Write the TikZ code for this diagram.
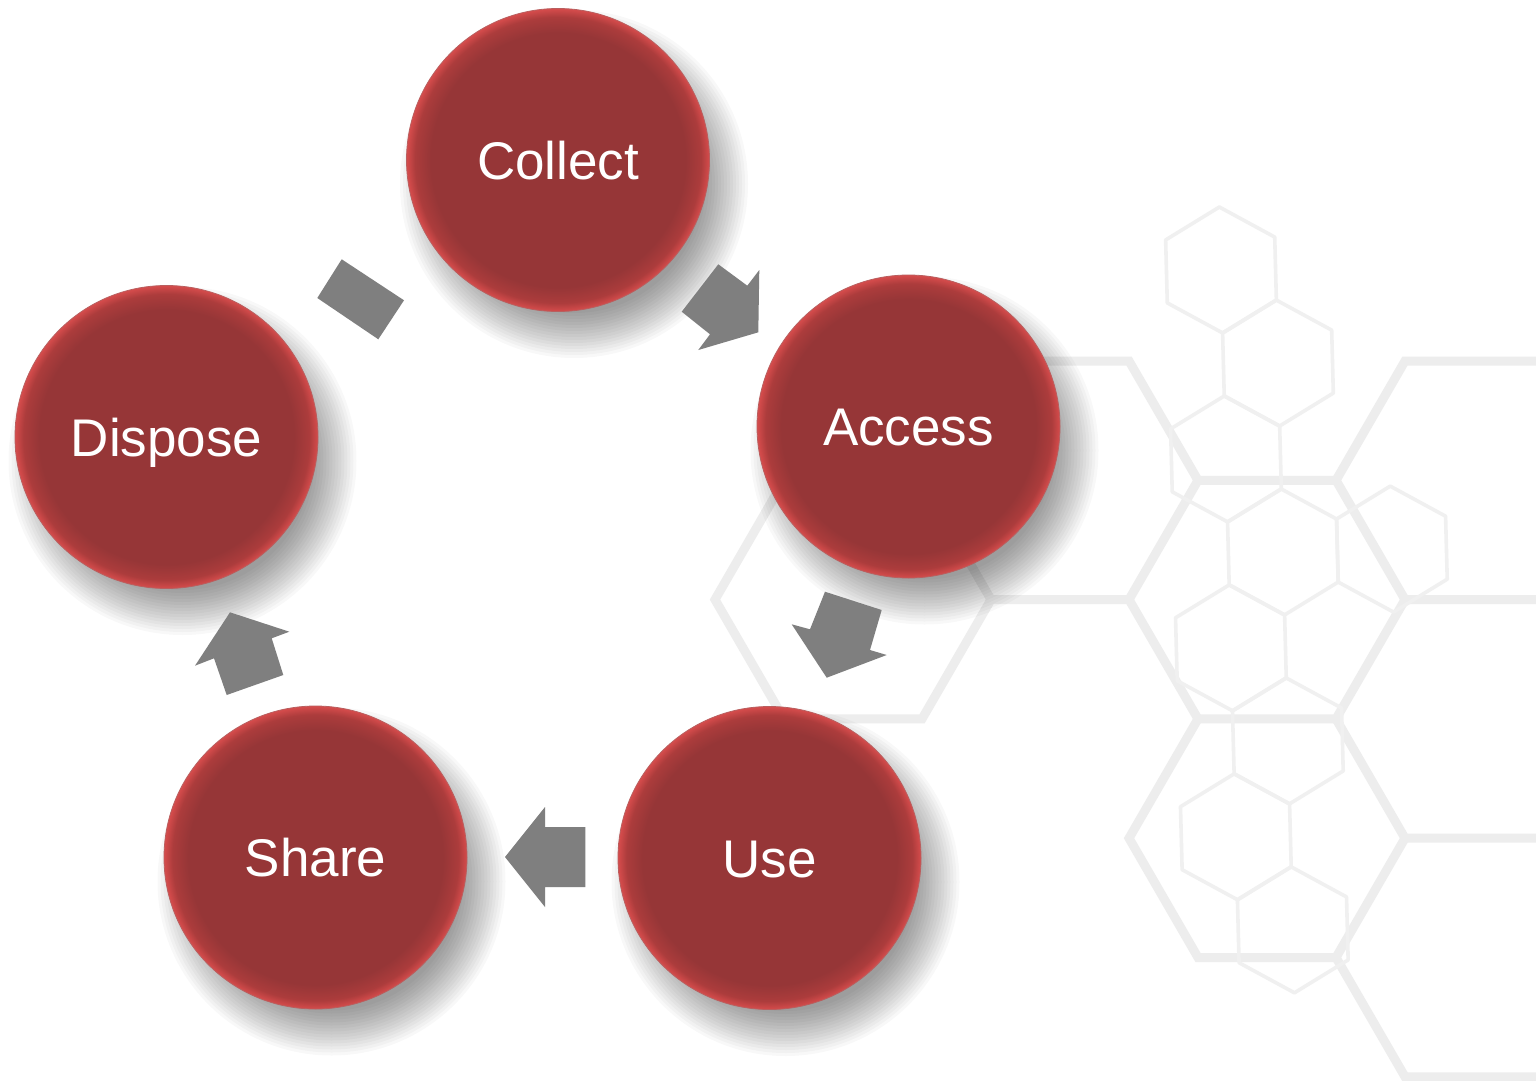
\documentclass[tikz,border=0pt]{standalone}
\usepackage{fontspec}
\setmainfont{Liberation Sans}
\definecolor{ballc}{RGB}{150,54,55}
\definecolor{ballm}{RGB}{172,60,60}
\definecolor{balle}{RGB}{214,76,76}
\definecolor{ballo}{RGB}{185,95,95}
\definecolor{hexc}{RGB}{237,237,237}
\definecolor{hext}{RGB}{240,240,240}
\definecolor{arrc}{RGB}{127,127,127}
\pgfdeclareradialshading{ballred}{\pgfpointorigin}{color(0bp)=(ballc); color(21bp)=(ballc); color(23.6bp)=(ballm); color(25bp)=(balle); color(50bp)=(balle)}
\tikzset{
  ball/.style={circle, minimum size=151.5pt, inner sep=0pt, shading=ballred, draw=ballo, line width=0.4pt,
    text=white, font=\fontsize{26.5}{30}\selectfont, text height=19pt, text depth=0pt},
  hexthick/.style={draw=hexc, line width=4.5pt, line join=miter},
  hexthin/.style={draw=hext, line width=1.8pt, line join=round},
  blockarrow/.style={fill=arrc, draw=none},
  shadowlayer/.style={fill=black, opacity=0.026}
}
\begin{document}
\begin{tikzpicture}[x=0.5pt,y=-0.5pt]
\useasboundingbox (0,0) rectangle (1536,1081);
\fill[white] (0,0) rectangle (1536,1081);

% large background hexagons
\def\ra{361}\def\rb{480.3}\def\rc{599.6}\def\rd{718.9}\def\re{838.2}\def\rf{957.5}\def\rg{1076.8}
\draw[hexthick] (991,\ra) -- (1129,\ra) -- (1198,\rb) -- (1336,\rb) -- (1405,\ra) -- (1545,\ra);
\draw[hexthick] (1336,\rb) -- (1405,\rc) -- (1545,\rc);
\draw[hexthick] (1198,\rb) -- (1129,\rc) -- (991,\rc) -- (922,\rb) -- (991,\ra);
\draw[hexthick] (991,\rc) -- (922,\rd) -- (784,\rd) -- (715,\rc) -- (784,\rb) -- (922,\rb);
\draw[hexthick] (1129,\rc) -- (1198,\rd) -- (1336,\rd) -- (1405,\rc);
\draw[hexthick] (1336,\rd) -- (1405,\re) -- (1545,\re);
\draw[hexthick] (1198,\rd) -- (1129,\re) -- (1198,\rf) -- (1336,\rf) -- (1405,\re);
\draw[hexthick] (1336,\rf) -- (1405,\rg) -- (1545,\rg);

% small background hexagons
\begin{scope}[shift={(1221,270)}, rotate=1.5]
  \foreach \i/\j in {0/0,0/1,-1/2,-1/3,0/3,-2/4,-2/5,-3/6,-3/7}{
    \draw[hexthin] ({109*(\i+\j/2)},{94.5*\j}) +(90:63) -- +(30:63) -- +(-30:63) -- +(-90:63) -- +(-150:63) -- +(150:63) -- cycle;
  }
\end{scope}

% centres
\coordinate (cC) at (558,160);
\coordinate (cA) at (908.5,426.5);
\coordinate (cU) at (769.5,858);
\coordinate (cS) at (315.5,857.5);
\coordinate (cD) at (166.5,437);

% soft shadows
\foreach \c in {cC,cA,cU,cS,cD}{
  \foreach \k in {0,...,15}{
    \fill[shadowlayer] ([shift={(16,24)}]\c) circle[radius={(174-3*\k)*0.5pt}];
  }
}

% circles
\node[ball] (collect) at (cC) {Collect};
\node[ball] (access) at (cA) {Access};
\node[ball] (use) at (cU) {Use};
\node[ball] (share) at (cS) {Share};
\node[ball] (dispose) at (cD) {Dispose};

% block arrows
\fill[blockarrow] (718.3,264.3) -- (747.3,285.7) -- (759.3,270) -- (758.3,332.3) -- (698.3,350) -- (710,334.3) -- (681.7,311.7) -- cycle;
\fill[blockarrow] (825,591.7) -- (881.7,610) -- (870,650) -- (886.7,655) -- (826.7,677.7) -- (791.7,624.3) -- (810,629.3) -- cycle;
\fill[blockarrow] (585.3,827) -- (545,827) -- (545,807) -- (505,857) -- (545,907) -- (545,887) -- (585.3,887) -- cycle;
\fill[blockarrow] (230,612.3) -- (289.3,631.7) -- (271.7,638.3) -- (283.3,675) -- (226.7,695) -- (214,658.3) -- (195,665.7) -- cycle;
\fill[blockarrow] (341.7,259.3) -- (404,300.3) -- (378.3,339.3) -- (317.3,298) -- cycle;
\end{tikzpicture}
\end{document}
